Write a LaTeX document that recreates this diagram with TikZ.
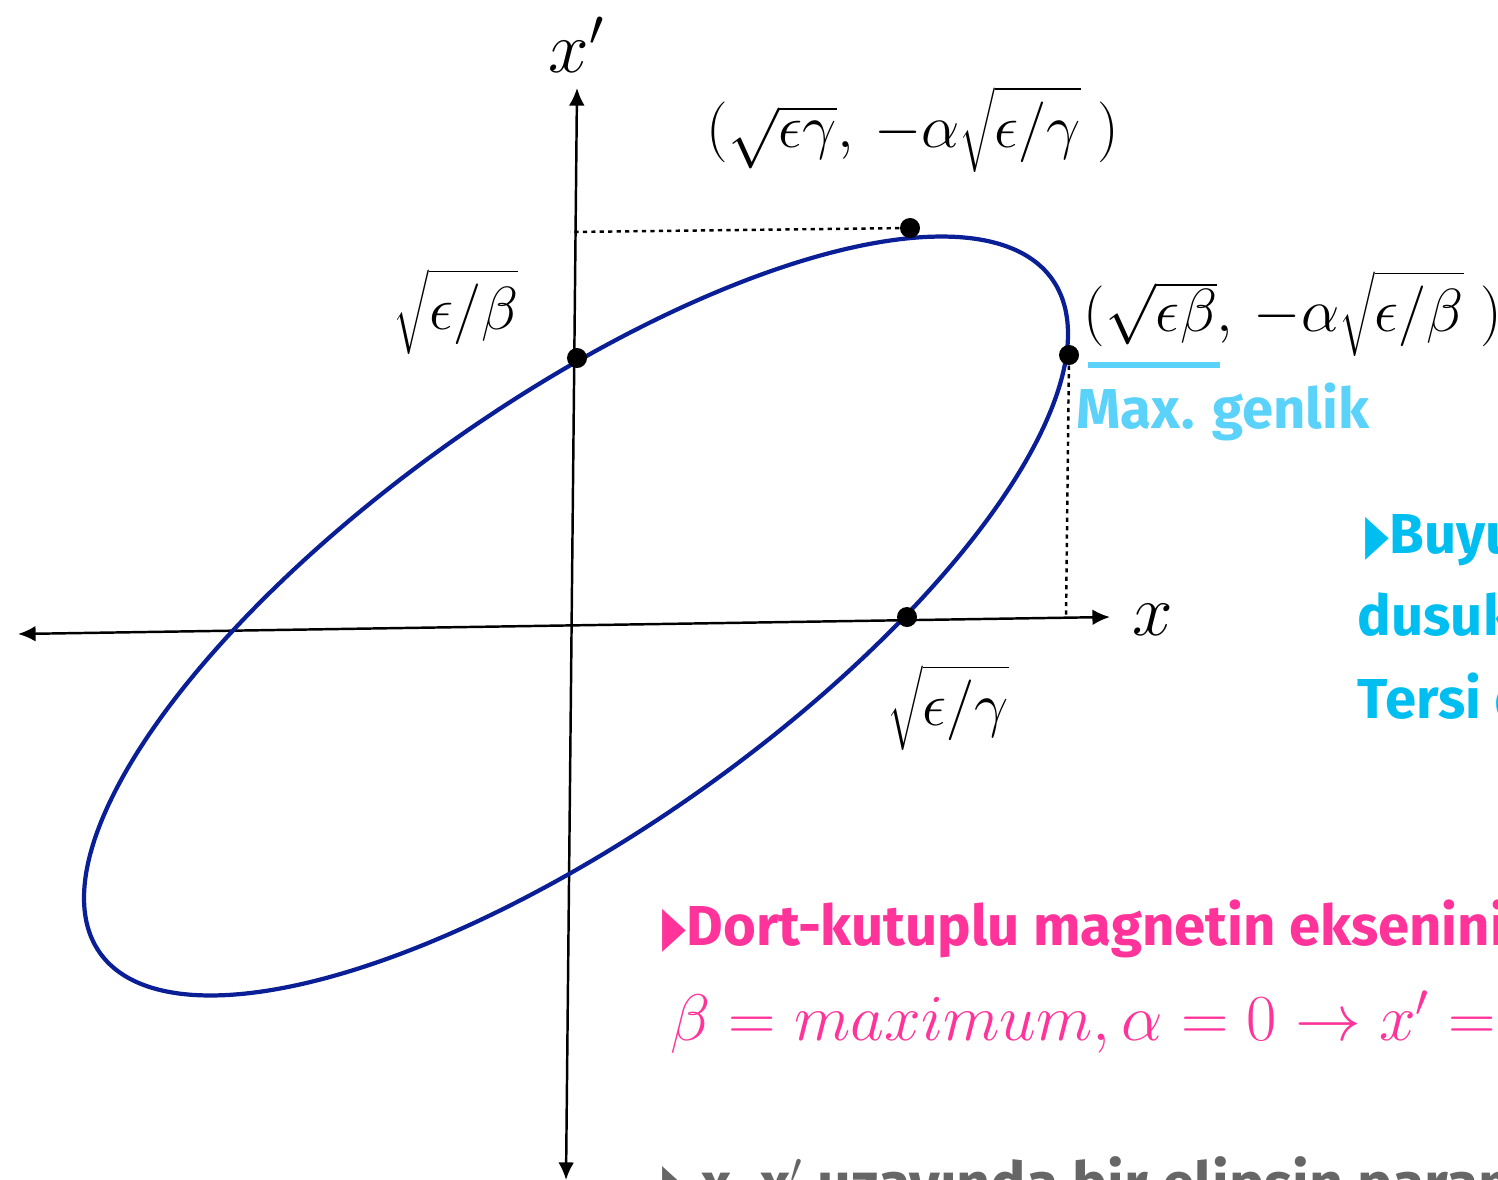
\RequirePackage{fix-cm}
\documentclass[tikz,border=0pt]{standalone}
\usepackage{fontspec}
\setmainfont{Fira Sans}
\newfontfamily\symfont{DejaVu Sans}
\usetikzlibrary{arrows.meta}
\definecolor{kblue}{HTML}{0A1F96}
\definecolor{klcyan}{HTML}{5AD2FA}
\definecolor{kcyan}{HTML}{00BFF0}
\definecolor{kpink}{HTML}{FF3399}
\definecolor{kgray}{HTML}{666666}
\tikzset{
  dot/.style={circle, fill=black, inner sep=0pt, minimum size=0.2cm},
  axlab/.style={font=\fontsize{20.7}{24}\selectfont},
  mathlab/.style={font=\fontsize{17.3}{21}\selectfont},
  slide/.style={font=\fontsize{16}{19}\selectfont\bfseries, inner sep=0pt},
  guide/.style={line width=0.7pt, dash pattern=on 1.2pt off 1.2pt},
  axis/.style={line width=0.7pt, {Latex[length=5pt,width=4.5pt]}-{Latex[length=5pt,width=4.5pt]}}
}
\newcommand{\bul}{{\symfont\scalebox{0.55}[1]{▶}}}

\begin{document}
\begin{tikzpicture}[x=0.01cm, y=-0.01cm]
\useasboundingbox (0,0) rectangle (1498,1179);
\clip (0,0) rectangle (1498,1179);
% axes
\coordinate (xl) at (18,634);
\coordinate (xr) at (1110,617);
\coordinate (yb) at (566,1180);
\coordinate (yt) at (577,88);
\draw[axis] (xl) -- (xr);
\draw[axis] (yb) -- (yt);
\node[axlab] (xlab) at (1153,620) {$x$};
\node[axlab] (xplab) at (577,45) {$x'$};
% phase-space ellipse
\draw[kblue, line width=1.2pt] plot[smooth cycle, domain=0:357, samples=120]
  ({576+492*cos(\x)}, {616-254*(1.11*cos(\x)-sin(\x))});
\node[dot] (dtop) at (910,228) {};
\node[dot] (dright) at (1069,355) {};
\node[dot] (dleft) at (577,358) {};
\node[dot] (dbot) at (907,617) {};
\coordinate (ytick) at (570,232);
\coordinate (xtick) at (1066,617);
\draw[guide] (dtop) -- (ytick);
\draw[guide] (dright) -- (xtick);
% labels
\node[mathlab] (sqb) at (456,312) {$\sqrt{\epsilon/\beta}$};
\node[mathlab] (sqg) at (948,708) {$\sqrt{\epsilon/\gamma}$};
\node[mathlab, anchor=west, inner sep=0pt] (ptop) at (706,130)
  {$(\sqrt{\epsilon\gamma},\,-\alpha\sqrt{\epsilon/\gamma}\;)$};
\node[mathlab, anchor=west, inner sep=0pt] (pright) at (1083,314)
  {$(\sqrt{\epsilon\beta},\,-\alpha\sqrt{\epsilon/\beta}\;)$};
\draw[klcyan, line width=1.5pt] (1088,365) -- (1220,365);
\node[slide, text=klcyan, anchor=base west] (maxg) at (1076,428) {Max. genlik};
% slide text, cut at the edge
\node[slide, text=kcyan, anchor=base west] (buy) at (1365,553) {\bul Buyuk};
\node[slide, text=kcyan, anchor=base west] (dus) at (1357,635) {dusuk};
\node[slide, text=kcyan, anchor=base west] (ters) at (1357,718) {Tersi d};
\node[slide, text=kpink, anchor=base west] (dort) at (662,945) {\bul Dort-kutuplu magnetin ekseninin};
\node[text=kpink, anchor=base west, inner sep=0pt, font=\fontsize{18.7}{22}\selectfont] (bmax) at (670,1040)
  {$\beta = maximum, \alpha = 0 \rightarrow x' = $};
\node[slide, text=kgray, anchor=base west, font=\fontsize{16.8}{20}\selectfont\bfseries] (elip) at (662,1204)
  {\bul\ x, x$'$ uzayında bir elipsin param};
\end{tikzpicture}
\end{document}
